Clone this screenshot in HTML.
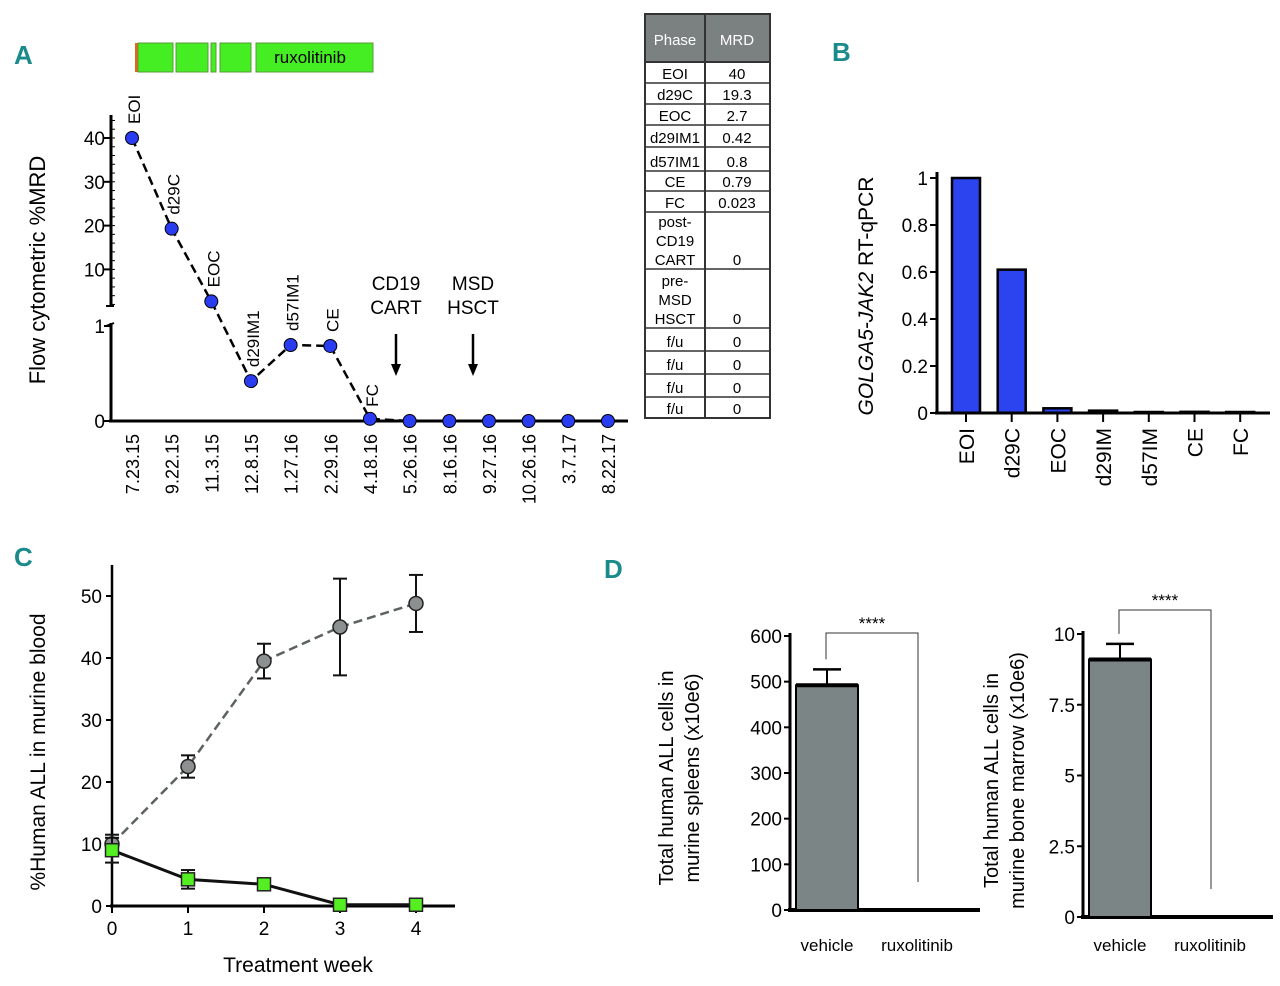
<!DOCTYPE html>
<html><head><meta charset="utf-8">
<style>
html,body{margin:0;padding:0;background:#fff;}
svg{display:block;font-family:"Liberation Sans",sans-serif;}
.lt{font-family:"Liberation Sans",sans-serif;fill:#1a8a8c;font-weight:bold;}
</style></head>
<body>
<svg id="fig" width="1280" height="986" viewBox="0 0 1280 986" xmlns="http://www.w3.org/2000/svg">
<g id="gA"></g>
<g id="gT"></g>
<g id="gB"></g>
<g id="gC"></g>
<g id="gD"></g>
</svg>
<script>
// ---- Panel A data ----
const aDates=["7.23.15","9.22.15","11.3.15","12.8.15","1.27.16","2.29.16","4.18.16","5.26.16","8.16.16","9.27.16","10.26.16","3.7.17","8.22.17"];
const aMRD=[40,19.3,2.7,0.42,0.8,0.79,0.023,0,0,0,0,0,0];
const aPhase=["EOI","d29C","EOC","d29IM1","d57IM1","CE","FC"];
const aUpperTicks=[10,20,30,40];
const aLowerTicks=[0,1];
// ---- Table data ----
const tPhase=["EOI","d29C","EOC","d29IM1","d57IM1","CE","FC","post-|CD19|CART","pre-|MSD|HSCT","f/u","f/u","f/u","f/u"];
const tMRD=["40","19.3","2.7","0.42","0.8","0.79","0.023","0","0","0","0","0","0"];
// ---- Panel B data ----
const bCats=["EOI","d29C","EOC","d29IM","d57IM","CE","FC"];
const bVals=[1,0.61,0.02,0.01,0,0.005,0];
const bTicks=[0,0.2,0.4,0.6,0.8,1];
// ---- Panel C data ----
const cWeeks=[0,1,2,3,4];
const cVehicle=[10,22.5,39.5,45,48.8];
const cVehicleErr=[1.5,1.8,2.8,7.8,4.6];
const cRux=[9,4.3,3.5,0.2,0.2];
const cRuxErr=[2,1.5,0.6,0,0];
const cTicks=[0,10,20,30,40,50];
// ---- Panel D data ----
const dCats=["vehicle","ruxolitinib"];
const dSpleen=[492,0];
const dSpleenErr=[35,0];
const dSpleenTicks=[0,100,200,300,400,500,600];
const dMarrow=[9.1,0];
const dMarrowErr=[0.55,0];
const dMarrowTicks=["0","2.5","5","7.5","10"];

const NS="http://www.w3.org/2000/svg";
function mk(p,tag,at,txt){const e=document.createElementNS(NS,tag);for(const k in at)e.setAttribute(k,at[k]);if(txt!==undefined)e.textContent=txt;p.appendChild(e);return e;}

// ===== Panel A =====
(function(){
const g=document.getElementById('gA');
let t=mk(g,'text',{x:14,y:64,class:'lt','font-size':26},'A');


const segs=[[138,173],[176,208],[211,216],[220,251],[256,373]];
mk(g,'rect',{x:135,y:43,width:3,height:29,fill:'#e8641c'});
segs.forEach(s=>{const r=mk(g,'rect',{x:s[0],y:43,width:s[1]-s[0],height:29,fill:'#44ee22',stroke:'#5a9a3a','stroke-width':1});

});
mk(g,'text',{x:310,y:63,'font-size':17,'text-anchor':'middle'},'ruxolitinib');
const x=i=>132+i*39.66;
const y=v=>v>=1.5?(138-(v-40)*4.38):(421-v*95);
mk(g,'line',{x1:111,y1:115,x2:111,y2:306,stroke:'#000','stroke-width':3});
mk(g,'line',{x1:111,y1:323,x2:111,y2:422,stroke:'#000','stroke-width':3});
mk(g,'line',{x1:106,y1:306,x2:114,y2:306,stroke:'#000','stroke-width':2});
mk(g,'line',{x1:106,y1:326,x2:114,y2:323,stroke:'#000','stroke-width':2});
mk(g,'line',{x1:109,y1:421,x2:628,y2:421,stroke:'#000','stroke-width':3});
for(let v=2;v<=46;v+=2){if(y(v)>114)mk(g,'line',{x1:111,y1:y(v),x2:115,y2:y(v),stroke:'#000','stroke-width':1});}
aUpperTicks.forEach(v=>{mk(g,'line',{x1:104,y1:y(v),x2:111,y2:y(v),stroke:'#000','stroke-width':2});
mk(g,'text',{x:105,y:y(v)+7,'font-size':19,'text-anchor':'end'},v);});
aLowerTicks.forEach(v=>{mk(g,'line',{x1:104,y1:y(v),x2:111,y2:y(v),stroke:'#000','stroke-width':2});
mk(g,'text',{x:105,y:y(v)+7,'font-size':19,'text-anchor':'end'},v);});
t=mk(g,'text',{x:0,y:0,'font-size':22,'text-anchor':'middle',transform:'translate(45,270) rotate(-90)'},'Flow cytometric %MRD');


let d='';aMRD.forEach((v,i)=>{d+=(i?'L':'M')+x(i)+','+y(v);});
mk(g,'path',{d:d,fill:'none',stroke:'#000','stroke-width':2.5,'stroke-dasharray':'9,5'});
aMRD.forEach((v,i)=>{const c=mk(g,'circle',{cx:x(i),cy:y(v),r:6.5,fill:'#2a3cf0',stroke:'#000','stroke-width':1});


mk(g,'text',{x:0,y:0,'font-size':18,'text-anchor':'end',transform:`translate(${x(i)+7},434) rotate(-90)`},aDates[i]);});
aPhase.forEach((p,i)=>{const yy=y(aMRD[i])-(i==6?12:14);
mk(g,'text',{x:0,y:0,'font-size':17,'text-anchor':'start',transform:`translate(${x(i)+8},${yy}) rotate(-90)`},p);});
[[396,'CD19','CART'],[473,'MSD','HSCT']].forEach(a=>{
mk(g,'text',{x:a[0],y:290,'font-size':19,'text-anchor':'middle'},a[1]);
mk(g,'text',{x:a[0],y:314,'font-size':19,'text-anchor':'middle'},a[2]);
mk(g,'line',{x1:a[0],y1:334,x2:a[0],y2:368,stroke:'#000','stroke-width':2.5});
const ar=mk(g,'path',{d:`M${a[0]-5},364L${a[0]+5},364L${a[0]},376Z`,fill:'#000'});

});
})();

// ===== Table =====
(function(){
const g=document.getElementById('gT');
const rows=[62,83,104,125,147,171,191,212,269,328,351,374,397,418];
mk(g,'rect',{x:645,y:14,width:125,height:48,fill:'#7b8080',stroke:'#333','stroke-width':2});
mk(g,'text',{x:675,y:45,'font-size':15,fill:'#fff','text-anchor':'middle'},'Phase');
mk(g,'text',{x:737,y:45,'font-size':15,fill:'#fff','text-anchor':'middle'},'MRD');
mk(g,'rect',{x:645,y:62,width:125,height:356,fill:'#fff',stroke:'#333','stroke-width':2});
mk(g,'line',{x1:705,y1:14,x2:705,y2:418,stroke:'#333','stroke-width':2});
tPhase.forEach((p,i)=>{const y0=rows[i],y1=rows[i+1];
if(i>0)mk(g,'line',{x1:645,y1:y0,x2:770,y2:y0,stroke:'#333','stroke-width':1.5});
const parts=p.split('|');
parts.forEach((s,j)=>mk(g,'text',{x:675,y:y1-4-(parts.length-1-j)*19,'font-size':15,'text-anchor':'middle'},s));
const c=mk(g,'text',{x:737,y:y1-4,'font-size':15,'text-anchor':'middle'},tMRD[i]);

});
})();

// ===== Panel B =====
(function(){
const g=document.getElementById('gB');
let t=mk(g,'text',{x:832,y:61,class:'lt','font-size':26},'B');


const x=i=>966+i*45.7, y=v=>413-v*235;
bVals.forEach((v,i)=>{const h=Math.max(413-y(v),1);
const r=mk(g,'rect',{x:x(i)-14,y:413-h,width:28,height:h,fill:'#2c44f0',stroke:'#000','stroke-width':2.5});


mk(g,'line',{x1:x(i),y1:413,x2:x(i),y2:422,stroke:'#000','stroke-width':2});
mk(g,'text',{x:0,y:0,'font-size':21,'text-anchor':'end',transform:`translate(${x(i)+8},428) rotate(-90)`},bCats[i]);});
mk(g,'line',{x1:937,y1:172,x2:937,y2:414,stroke:'#000','stroke-width':3});
mk(g,'line',{x1:935,y1:413,x2:1270,y2:413,stroke:'#000','stroke-width':3});
bTicks.forEach(v=>{mk(g,'line',{x1:930,y1:y(v),x2:937,y2:y(v),stroke:'#000','stroke-width':2});
mk(g,'text',{x:928,y:y(v)+7,'font-size':19,'text-anchor':'end'},v);});
t=mk(g,'text',{x:0,y:0,'font-size':21,'text-anchor':'middle',transform:'translate(873,296) rotate(-90)'});


mk(t,'tspan',{'font-style':'italic'},'GOLGA5-JAK2');
mk(t,'tspan',{},' RT-qPCR');
})();

// ===== Panel C =====
(function(){
const g=document.getElementById('gC');
let t=mk(g,'text',{x:14,y:566,class:'lt','font-size':26},'C');


const x=w=>112+w*76, y=v=>906-v*6.2;
mk(g,'line',{x1:112,y1:565,x2:112,y2:907,stroke:'#000','stroke-width':2.5});
mk(g,'line',{x1:110,y1:906,x2:455,y2:906,stroke:'#000','stroke-width':3});
cTicks.forEach(v=>{mk(g,'line',{x1:106,y1:y(v),x2:112,y2:y(v),stroke:'#000','stroke-width':2});
mk(g,'text',{x:102,y:y(v)+7,'font-size':19,'text-anchor':'end'},v);});
cWeeks.forEach(w=>{mk(g,'line',{x1:x(w),y1:906,x2:x(w),y2:913,stroke:'#000','stroke-width':2});
mk(g,'text',{x:x(w),y:935,'font-size':19,'text-anchor':'middle'},w);});
mk(g,'text',{x:298,y:972,'font-size':21,'text-anchor':'middle'},'Treatment week');
t=mk(g,'text',{x:0,y:0,'font-size':21,'text-anchor':'middle',transform:'translate(45,752) rotate(-90)'},'%Human ALL in murine blood');


function series(vals,errs,dash,col,shape,name){
let d='';vals.forEach((v,i)=>{d+=(i?'L':'M')+x(cWeeks[i])+','+y(v);});
mk(g,'path',{d:d,fill:'none',stroke:col,'stroke-width':dash?2.5:3,'stroke-dasharray':dash?'9,5':'none'});
vals.forEach((v,i)=>{const cx=x(cWeeks[i]),cy=y(v),e=errs[i]*6.2;
if(e>0){mk(g,'line',{x1:cx,y1:cy-e,x2:cx,y2:cy+e,stroke:'#111','stroke-width':2});
mk(g,'line',{x1:cx-7,y1:cy-e,x2:cx+7,y2:cy-e,stroke:'#111','stroke-width':2});
mk(g,'line',{x1:cx-7,y1:cy+e,x2:cx+7,y2:cy+e,stroke:'#111','stroke-width':2});}
let m;
if(shape==='c')m=mk(g,'circle',{cx:cx,cy:cy,r:7,fill:'#8c9090',stroke:'#222','stroke-width':1.5});
else m=mk(g,'rect',{x:cx-6.5,y:cy-6.5,width:13,height:13,fill:'#55ee22',stroke:'#222','stroke-width':1.5});

});}
series(cVehicle,cVehicleErr,true,'#5c6262','c','vehicle-point');
series(cRux,cRuxErr,false,'#111','s','ruxolitinib-point');
})();

// ===== Panel D =====
(function(){
const g=document.getElementById('gD');
let t=mk(g,'text',{x:604,y:578,class:'lt','font-size':26},'D');


function sub(ax,y0,ppu,maxY,ticks,vals,errs,title1,title2,tx,brTop,name){
const y=v=>y0-v*ppu;
mk(g,'line',{x1:ax,y1:y(maxY)-3,x2:ax,y2:y0+2,stroke:'#000','stroke-width':3});
mk(g,'line',{x1:ax-2,y1:y0,x2:ax+190,y2:y0,stroke:'#000','stroke-width':4});
ticks.forEach(s=>{const v=parseFloat(s);mk(g,'line',{x1:ax-6,y1:y(v),x2:ax,y2:y(v),stroke:'#000','stroke-width':2});
mk(g,'text',{x:ax-8,y:y(v)+7,'font-size':19,'text-anchor':'end'},s);});
const xs=[ax+37,ax+127];
vals.forEach((v,i)=>{if(v>0){const r=mk(g,'rect',{x:xs[i]-31,y:y(v),width:62,height:y0-y(v),fill:'#7b8585',stroke:'#000','stroke-width':2});


mk(g,'line',{x1:xs[i]-31,y1:y(v),x2:xs[i]+31,y2:y(v),stroke:'#000','stroke-width':4});
const e=errs[i]*ppu;
mk(g,'line',{x1:xs[i],y1:y(v),x2:xs[i],y2:y(v)-e,stroke:'#000','stroke-width':2});
mk(g,'line',{x1:xs[i]-14,y1:y(v)-e,x2:xs[i]+14,y2:y(v)-e,stroke:'#000','stroke-width':2.5});}
mk(g,'text',{x:xs[i],y:951,'font-size':17,'text-anchor':'middle'},dCats[i]);});
const xb0=xs[0]-1,xb1=xs[1]+1;
const br=mk(g,'path',{d:`M${xb0},${y(vals[0]+errs[0])-10}L${xb0},${brTop}L${xb1},${brTop}L${xb1},${y0-28}`,fill:'none',stroke:'#333','stroke-width':1});


mk(g,'text',{x:(xb0+xb1)/2,y:brTop-4,'font-size':17,'text-anchor':'middle'},'****');
const tt=mk(g,'text',{x:0,y:0,'font-size':20,'text-anchor':'middle',transform:`translate(${tx},${(y0+y(maxY))/2+5}) rotate(-90)`});


mk(tt,'tspan',{x:0,dy:0},title1);mk(tt,'tspan',{x:0,dy:26},title2);}
sub(790,910,0.4567,600,dSpleenTicks.map(String),dSpleen,dSpleenErr,'Total human ALL cells in','murine spleens (x10e6)',673,633,'spleen');
sub(1083,917,28.3,10,dMarrowTicks,dMarrow,dMarrowErr,'Total human ALL cells in','murine bone marrow (x10e6)',998,610,'marrow');
})();
</script>
</body></html>
